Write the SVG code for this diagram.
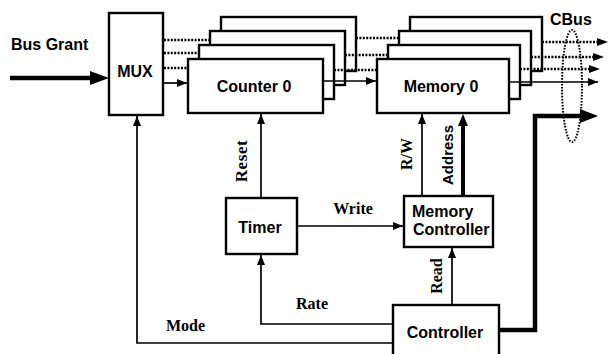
<svg xmlns="http://www.w3.org/2000/svg" width="610" height="354" viewBox="0 0 610 354">
<defs>
<style>
.box{fill:#fff;stroke:#000;stroke-width:2.4}
.ln{fill:none;stroke:#000;stroke-width:1.7}
.dot{fill:none;stroke:#000;stroke-width:2.4;stroke-dasharray:2 1.4}
.thick{fill:none;stroke:#000;stroke-width:4.5}
.sans{font-family:"Liberation Sans",Arial,sans-serif;font-weight:bold;font-size:16px;fill:#000}
.serif{font-family:"Liberation Serif","Times New Roman",serif;font-weight:bold;font-size:16px;fill:#000}
.mid{text-anchor:middle}
</style>
<marker id="ah" viewBox="0 0 10 8" markerWidth="10" markerHeight="8" refX="10" refY="4" orient="auto" markerUnits="userSpaceOnUse"><path d="M0,0L10,4L0,8z"/></marker>
</defs>
<rect width="610" height="354" fill="#fff"/>

<g id="mux">
<rect class="box" x="109" y="13" width="54" height="102"/>
<text class="sans mid" x="135" y="77">MUX</text>
</g>

<g id="counters">
<rect class="box" x="221" y="17" width="135" height="54"/>
<rect class="box" x="210" y="31" width="135" height="54"/>
<rect class="box" x="199" y="45" width="135" height="54"/>
</g>
<g id="counter0">
<rect class="box" x="188" y="59" width="135" height="54"/>
<text class="sans mid" x="254" y="92">Counter 0</text>
</g>

<g id="memories">
<rect class="box" x="410" y="17" width="132" height="54"/>
<rect class="box" x="399" y="31" width="132" height="54"/>
<rect class="box" x="388" y="45" width="132" height="54"/>
</g>
<g id="memory0">
<rect class="box" x="377" y="59" width="132" height="54"/>
<text class="sans mid" x="441" y="92">Memory 0</text>
</g>

<g id="timer">
<rect class="box" x="226" y="198" width="71" height="56"/>
<text class="sans mid" x="260" y="233">Timer</text>
</g>

<g id="memctrl">
<rect class="box" x="404" y="196" width="89" height="51"/>
<text class="sans" x="412" y="217">Memory</text>
<text class="sans" x="413" y="235">Controller</text>
</g>

<g id="controller">
<rect class="box" x="393" y="305" width="106" height="54"/>
<text class="sans mid" x="445" y="338">Controller</text>
</g>

<g id="connectors">
<path class="thick" d="M10,78H92"/>
<path d="M90,71L109,78L90,85z"/>
<path class="dot" d="M164,40H210"/>
<path class="dot" d="M164,53H199"/>
<path class="dot" d="M164,68H188"/>
<path class="ln" d="M164,83H187" marker-end="url(#ah)"/>

<path class="dot" d="M356,38H399"/>
<path class="dot" d="M345,55H388"/>
<path class="dot" d="M334,70H377"/>
<path class="ln" d="M323,81H376" marker-end="url(#ah)"/>

<path class="dot" d="M542,42H598"/>
<path d="M597,38L608,42L597,46z"/>
<path class="dot" d="M531,57H594"/>
<path d="M593,53L604,57L593,61z"/>
<path class="dot" d="M520,69H590"/>
<path d="M589,65L600,69L589,73z"/>
<path class="ln" d="M509,82H598" marker-end="url(#ah)"/>

<path class="ln" d="M393,343H137V116" marker-end="url(#ah)"/>
<path class="ln" d="M393,324H261V255" marker-end="url(#ah)"/>
<path class="ln" d="M261,198V114" marker-end="url(#ah)"/>
<path class="ln" d="M297,226H403" marker-end="url(#ah)"/>
<path class="ln" d="M422,196V114" marker-end="url(#ah)"/>
<path class="ln" d="M452,305V248" marker-end="url(#ah)"/>
<path class="thick" style="stroke-width:4" d="M463,196V124"/>
<path d="M458,126L463,114L468,126z"/>
<path class="thick" d="M499,330H535V116H582"/>
<path d="M580,109L598,116L580,123z"/>
</g>

<g id="cbus">
<ellipse cx="572" cy="86" rx="10" ry="56" fill="none" stroke="#000" stroke-width="2" stroke-dasharray="1.6 1.4"/>
<text class="sans" x="550" y="25">CBus</text>
</g>

<g id="labels">
<text class="sans" x="11" y="50">Bus Grant</text>
<text class="serif mid" x="353" y="214">Write</text>
<text class="serif" x="296" y="309">Rate</text>
<text class="serif" x="166" y="331">Mode</text>
<text class="serif mid" style="font-size:17px;letter-spacing:0.6px" transform="translate(247,161) rotate(-90)">Reset</text>
<text class="serif mid" transform="translate(412,154) rotate(-90)">R/W</text>
<text class="sans mid" style="font-size:15px" transform="translate(453,155) rotate(-90)">Address</text>
<text class="serif mid" transform="translate(442,276) rotate(-90)">Read</text>
</g>
</svg>
